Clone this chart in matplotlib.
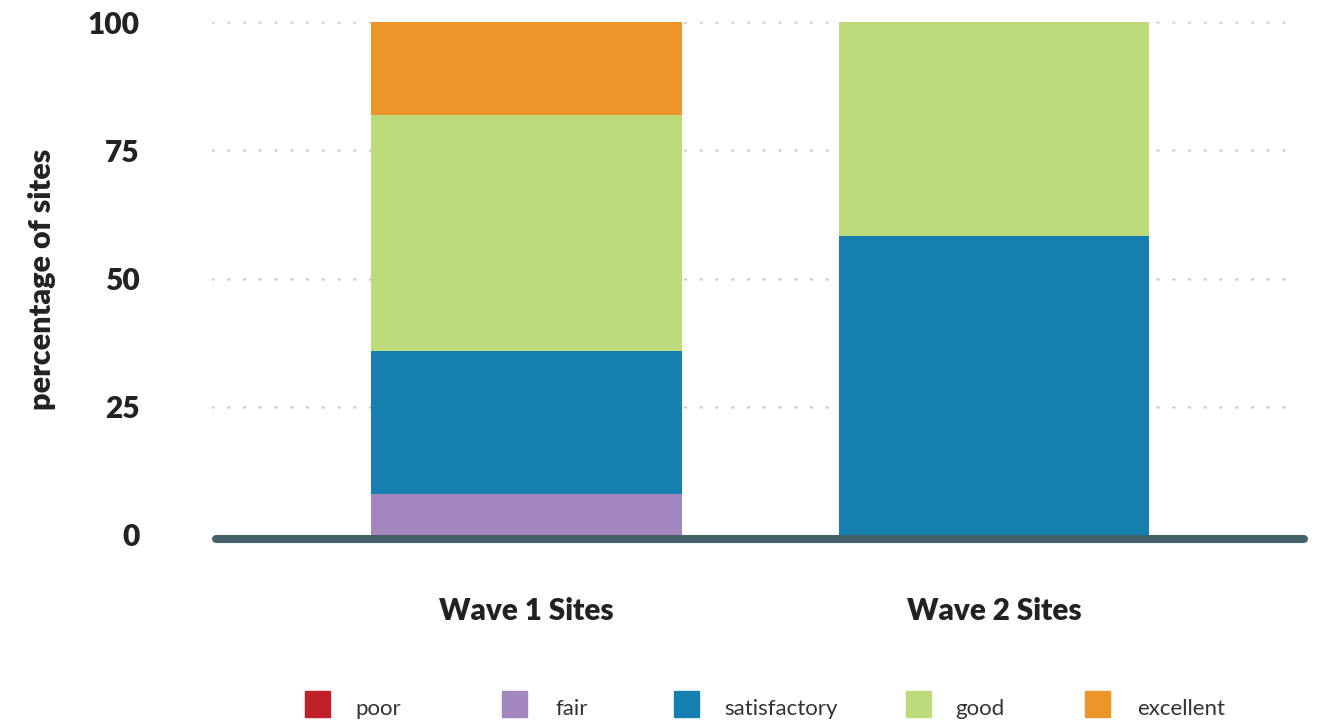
import matplotlib.pyplot as plt
from matplotlib.patches import Rectangle
from matplotlib.lines import Line2D
import numpy as np

plt.rcParams['font.family'] = ['Lato', 'DejaVu Sans']

# data
groups = ["Wave 1 Sites", "Wave 2 Sites"]
ratings = ["poor", "fair", "satisfactory", "good", "excellent"]
poor = [0, 0]
fair = [8.0, 0]
satisfactory = [27.8, 58.2]
good = [46.0, 41.8]
excellent = [18.2, 0]
colors = ["#c0202a", "#a386bd", "#1580b0", "#bddb7a", "#ec9629"]

fig = plt.figure(figsize=(13.29, 7.24), dpi=100)
ax = fig.add_axes([212 / 1329, 189 / 724, 1096 / 1329, 513 / 724])

x = np.arange(len(groups))
bottom = np.zeros(len(groups))
for vals, c in zip([poor, fair, satisfactory, good, excellent], colors):
    ax.bar(x, vals, width=0.665, bottom=bottom, color=c, zorder=3)
    bottom += np.array(vals)

ax.set_xlim(-0.673, 1.672)
ax.set_ylim(0, 100)
ax.set_yticks([0, 25, 50, 75, 100])
for y in [25, 50, 75, 100]:
    ax.plot([-0.673, 1.645], [y, y], color="#cccccc", lw=1.8,
            linestyle=(0, (0.4, 5.9)), dash_capstyle="round", zorder=1)

# baseline
ax.add_line(Line2D([0.004, 0.996], [-0.007, -0.007], transform=ax.transAxes,
                   color="#44606a", lw=5.8, solid_capstyle="round",
                   clip_on=False, zorder=4))

for s in ax.spines.values():
    s.set_visible(False)
ax.tick_params(length=0)
ax.tick_params(axis="y", pad=52, labelsize=21.5, labelcolor="#222222")
ax.set_yticklabels(["0", "25", "50", "75", "100"], fontweight="heavy")
ax.set_xticks(x)
ax.set_xticklabels(groups, fontweight="heavy", fontsize=21.3, color="#222222")
ax.tick_params(axis="x", pad=45)
fig.text(42 / 1329, 1 - 279 / 724, "percentage of sites", rotation=90,
         ha="center", va="center", fontsize=22, fontweight="heavy",
         color="#222222")

# legend
sq_x = [305, 502, 674, 906, 1085]
lab_x = [355, 555, 724, 955, 1137]
for r, c, sx, lx in zip(ratings, colors, sq_x, lab_x):
    fig.patches.append(Rectangle((sx / 1329, 1 - 717 / 724), 25 / 1329, 26 / 724,
                                 transform=fig.transFigure, color=c))
    fig.text(lx / 1329, 1 - 709 / 724, r, ha="left", va="center",
             fontsize=16, color="#333333")

fig.savefig("out.png", dpi=100)
